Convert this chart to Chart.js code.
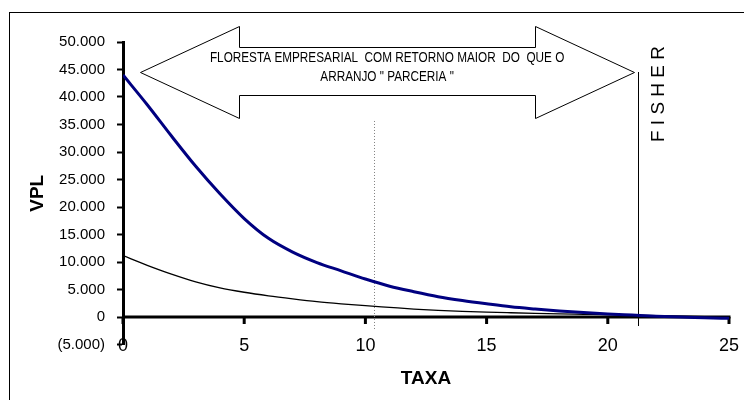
<!DOCTYPE html>
<html>
<head>
<meta charset="utf-8">
<script src="https://cdn.jsdelivr.net/npm/chart.js@4.4.0/dist/chart.umd.min.js"></script>
<style>
  html, body { margin: 0; padding: 0; background: #fff; }
</style>
</head>
<body>
<canvas id="chart" width="744" height="400"></canvas>
<script>
// taxa (%) e VPL dos dois arranjos
const taxa = [0, 1, 2, 3, 4, 5, 6, 7, 8, 9, 10, 11, 12, 13, 14, 15, 16, 17, 18, 19, 20, 21, 22, 23, 24, 25];
const vplEmpresarial = [44000, 38600, 32900, 27400, 22400, 17900, 14300, 11800, 9900, 8400, 6900, 5600, 4600, 3700, 3000, 2400, 1850, 1450, 1100, 800, 550, 350, 150, 0, -120, -250];
const vplParceria = [11150, 9400, 7800, 6400, 5300, 4500, 3850, 3300, 2800, 2400, 2050, 1750, 1450, 1200, 1020, 880, 770, 670, 580, 500, 420, 330, 230, 140, 60, -20];
const xTicks = [0, 5, 10, 15, 20, 25];

const taxaFisher = 21.26;
const taxaMarcada = 10.34;
const textoSeta = ['FLORESTA EMPRESARIAL  COM RETORNO MAIOR  DO  QUE O', 'ARRANJO " PARCERIA "'];

const FONT = "'Liberation Sans', Arial, sans-serif";

function formatVpl(v) {
  const s = String(Math.abs(v)).replace(/\B(?=(\d{3})+(?!\d))/g, '.');
  return v < 0 ? `(${s})` : s;
}

const anotacoes = {
  id: 'anotacoes',
  beforeDraw(chart) {
    const ctx = chart.ctx;
    ctx.save();
    ctx.strokeStyle = '#000';
    ctx.lineWidth = 1;
    ctx.strokeRect(9.5, 12.5, 800, 500);
    ctx.restore();
  },
  beforeDatasetsDraw(chart) {
    const {ctx, scales: {x, y}} = chart;
    const y0 = y.getPixelForValue(0);
    ctx.save();
    // eixo x no zero
    ctx.strokeStyle = '#000';
    ctx.lineWidth = 3;
    ctx.beginPath();
    ctx.moveTo(x.getPixelForValue(0), y0);
    ctx.lineTo(x.getPixelForValue(25) + 1.5, y0);
    ctx.stroke();
    xTicks.forEach(t => {
      const px = x.getPixelForValue(t);
      ctx.beginPath();
      ctx.moveTo(px, y0);
      ctx.lineTo(px, y0 + 7);
      ctx.stroke();
    });
    // linha pontilhada
    ctx.lineWidth = 1;
    ctx.strokeStyle = '#808080';
    ctx.setLineDash([1, 2]);
    const xm = Math.round(x.getPixelForValue(taxaMarcada)) + 0.5;
    ctx.beginPath();
    ctx.moveTo(xm, y.getPixelForValue(35640));
    ctx.lineTo(xm, y.getPixelForValue(-2360));
    ctx.stroke();
    // linha de Fisher
    ctx.setLineDash([]);
    ctx.strokeStyle = '#000';
    const xf = Math.round(x.getPixelForValue(taxaFisher)) + 0.5;
    ctx.beginPath();
    ctx.moveTo(xf, y.getPixelForValue(44545));
    ctx.lineTo(xf, y.getPixelForValue(-1640));
    ctx.stroke();
    ctx.restore();
  },
  afterDatasetsDraw(chart) {
    const {ctx, scales: {x, y}} = chart;
    const px = v => x.getPixelForValue(v);
    const py = v => y.getPixelForValue(v);
    ctx.save();
    // seta dupla
    const pts = [
      [0.70, 44545], [4.79, 52900], [4.79, 49090], [17.0, 49090], [17.0, 52900],
      [21.08, 44545], [17.0, 36180], [17.0, 40360], [4.79, 40360], [4.79, 36180]
    ];
    ctx.beginPath();
    pts.forEach((p, i) => {
      const X = Math.round(px(p[0])) + 0.5, Y = Math.round(py(p[1])) + 0.5;
      if (i === 0) ctx.moveTo(X, Y); else ctx.lineTo(X, Y);
    });
    ctx.closePath();
    ctx.fillStyle = '#fff';
    ctx.fill();
    ctx.strokeStyle = '#000';
    ctx.lineWidth = 1;
    ctx.stroke();
    // texto da seta
    ctx.fillStyle = '#000';
    ctx.font = `14px ${FONT}`;
    ctx.textAlign = 'center';
    ctx.textBaseline = 'middle';
    const cx = (px(4.79) + px(17.0)) / 2;
    [58, 77].forEach((ty, i) => {
      ctx.save();
      ctx.translate(cx, ty);
      ctx.scale(0.84, 1);
      ctx.fillText(textoSeta[i], 0, 0);
      ctx.restore();
    });
    // FISHER
    ctx.save();
    ctx.translate(px(taxaFisher) + 20.5, 94);
    ctx.rotate(-Math.PI / 2);
    ctx.font = `19px ${FONT}`;
    ctx.fillText('F I S H E R', 0, 0);
    ctx.restore();
    ctx.restore();
  }
};

new Chart(document.getElementById('chart'), {
  type: 'line',
  data: {
    datasets: [
      {
        label: 'Floresta empresarial',
        data: taxa.map((t, i) => ({x: t, y: vplEmpresarial[i]})),
        borderColor: '#000080',
        borderWidth: 3,
        pointRadius: 0,
        cubicInterpolationMode: 'monotone'
      },
      {
        label: 'Parceria',
        data: taxa.map((t, i) => ({x: t, y: vplParceria[i]})),
        borderColor: '#000',
        borderWidth: 1.3,
        pointRadius: 0,
        cubicInterpolationMode: 'monotone'
      }
    ]
  },
  options: {
    responsive: false,
    animation: false,
    layout: {padding: {left: 0, top: 42, right: 15, bottom: 0}},
    plugins: {legend: {display: false}, tooltip: {enabled: false}},
    scales: {
      x: {
        type: 'linear',
        min: 0,
        max: 25,
        afterFit: s => { s.height = 55.5; },
        // mirror evita o recorte dos rotulos, que ficam sobre a linha do -5000
        ticks: {stepSize: 5, mirror: true, padding: -12.3, color: '#000', font: {family: FONT, size: 18}},
        grid: {display: false, drawTicks: false},
        border: {display: false},
        title: {display: true, text: 'TAXA', color: '#000', font: {family: FONT, size: 19, weight: 'bold'}, padding: {top: 0, bottom: 10}}
      },
      y: {
        min: -5000,
        max: 50000,
        afterFit: s => { s.width = 123; },
        ticks: {stepSize: 5000, padding: 12, color: '#000', font: {family: FONT, size: 15}, callback: v => formatVpl(v)},
        grid: {drawOnChartArea: false, drawTicks: true, tickLength: 6, tickWidth: 2, tickColor: '#000'},
        border: {display: true, width: 3, color: '#000'},
        title: {display: true, text: 'VPL', color: '#000', font: {family: FONT, size: 19, weight: 'bold'}, padding: {top: 26.6, bottom: 0}}
      }
    }
  },
  plugins: [anotacoes]
});
</script>
</body>
</html>
